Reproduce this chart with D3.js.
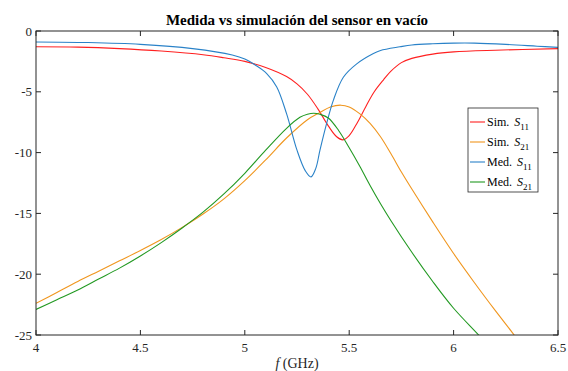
<!DOCTYPE html>
<html><head><meta charset="utf-8">
<script src="https://cdn.jsdelivr.net/npm/d3@7"></script>
<style>body{margin:0;background:#fff}svg{display:block}</style>
</head><body>
<svg id="c" width="568" height="371"></svg>
<script>
const xTicks = [4, 4.5, 5, 5.5, 6, 6.5];
const xTickLabels = ["4", "4.5", "5", "5.5", "6", "6.5"];
const yTicks = [0, -5, -10, -15, -20, -25];
const yTickLabels = ["0", "-5", "-10", "-15", "-20", "-25"];

const simS11F = [4.0, 4.2, 4.4, 4.6, 4.8, 4.9, 5.0, 5.1, 5.2, 5.25, 5.3, 5.35, 5.4, 5.44, 5.47, 5.5, 5.54, 5.58, 5.62, 5.665, 5.7, 5.75, 5.8, 5.9, 6.0, 6.2, 6.5];
const simS11V = [-1.3, -1.33, -1.45, -1.65, -1.95, -2.2, -2.5, -3.0, -3.75, -4.35, -5.2, -6.4, -7.8, -8.7, -8.95, -8.6, -7.5, -6.2, -5.0, -4.0, -3.3, -2.6, -2.25, -1.9, -1.72, -1.58, -1.45];

const simS21F = [4.0, 4.1, 4.2, 4.3, 4.4, 4.5, 4.6, 4.7, 4.8, 4.9, 5.0, 5.1, 5.2, 5.3, 5.36, 5.41, 5.46, 5.5, 5.55, 5.6, 5.65, 5.7, 5.75, 5.8, 5.9, 6.0, 6.1, 6.2, 6.29, 6.35];
const simS21V = [-22.4, -21.5, -20.6, -19.75, -18.9, -18.05, -17.15, -16.15, -15.05, -13.8, -12.3, -10.6, -8.8, -7.3, -6.7, -6.25, -6.1, -6.25, -6.8, -7.6, -8.7, -10.1, -11.6, -13.0, -15.7, -18.3, -20.7, -23.0, -25.0, -26.4];

const medS11F = [4.0, 4.25, 4.5, 4.75, 4.94, 5.0, 5.05, 5.105, 5.153, 5.2, 5.25, 5.29, 5.317, 5.34, 5.36, 5.392, 5.424, 5.472, 5.536, 5.616, 5.65, 5.743, 5.8, 5.9, 6.0, 6.1, 6.25, 6.4, 6.5];
const medS11V = [-0.9, -0.95, -1.1, -1.45, -1.97, -2.3, -2.8, -3.5, -4.6, -6.8, -9.8, -11.5, -12.0, -11.3, -9.8, -7.6, -5.7, -3.8, -2.7, -1.85, -1.6, -1.3, -1.15, -1.05, -1.0, -1.0, -1.1, -1.25, -1.35];

const medS21F = [4.0, 4.1, 4.2, 4.3, 4.4, 4.5, 4.6, 4.7, 4.8, 4.9, 5.0, 5.1, 5.2, 5.264, 5.3, 5.33, 5.36, 5.4, 5.45, 5.5, 5.55, 5.6, 5.65, 5.7, 5.8, 5.9, 6.0, 6.12, 6.2];
const medS21V = [-22.9, -22.1, -21.3, -20.4, -19.5, -18.5, -17.4, -16.2, -14.9, -13.4, -11.7, -9.8, -8.0, -7.1, -6.85, -6.77, -6.85, -7.15, -8.2, -9.6, -11.1, -12.7, -14.2, -15.6, -18.2, -20.6, -22.8, -25.0, -26.5];

const seriesNames = ["Sim. ", "Sim. ", "Med. ", "Med. "];
const seriesSub = ["11", "21", "11", "21"];
const colors = ["#ff2020", "#f0961e", "#2a82c8", "#229922"];

const svg = d3.select("#c");
const m = {l: 36, r: 558, t: 31, b: 335};
const x = d3.scaleLinear().domain([4, 6.5]).range([m.l, m.r]);
const y = d3.scaleLinear().domain([-25, 0]).range([m.b, m.t]);
const font = "'Liberation Serif','Times New Roman',serif";
const axisColor = "#262626";

svg.append("defs").append("clipPath").attr("id", "clip")
  .append("rect").attr("x", m.l).attr("y", m.t).attr("width", m.r - m.l).attr("height", m.b - m.t);

const series = [
  simS11F.map((f, i) => [f, simS11V[i]]),
  simS21F.map((f, i) => [f, simS21V[i]]),
  medS11F.map((f, i) => [f, medS11V[i]]),
  medS21F.map((f, i) => [f, medS21V[i]])
];
const line = d3.line().x(d => x(d[0])).y(d => y(d[1])).curve(d3.curveCatmullRom.alpha(0.5));
const g = svg.append("g").attr("clip-path", "url(#clip)");
series.forEach((s, i) => {
  g.append("path").attr("d", line(s)).attr("fill", "none").attr("stroke", colors[i]).attr("stroke-width", 1.1);
});

// axes
const tickLen = 5;
const ax = svg.append("g").attr("stroke", axisColor).attr("fill", "none");
ax.append("rect").attr("x", m.l).attr("y", m.t).attr("width", m.r - m.l).attr("height", m.b - m.t).attr("stroke-width", 1);
xTicks.forEach(t => {
  ax.append("line").attr("x1", x(t)).attr("x2", x(t)).attr("y1", m.b).attr("y2", m.b - tickLen);
  ax.append("line").attr("x1", x(t)).attr("x2", x(t)).attr("y1", m.t).attr("y2", m.t + tickLen);
});
yTicks.forEach(t => {
  ax.append("line").attr("x1", m.l).attr("x2", m.l + tickLen).attr("y1", y(t)).attr("y2", y(t));
  ax.append("line").attr("x1", m.r).attr("x2", m.r - tickLen).attr("y1", y(t)).attr("y2", y(t));
});
xTicks.forEach((t, i) => {
  svg.append("text").attr("x", x(t)).attr("y", m.b + 17).attr("text-anchor", "middle")
    .attr("font-family", font).attr("font-size", 13).attr("fill", axisColor).text(xTickLabels[i]);
});
yTicks.forEach((t, i) => {
  svg.append("text").attr("x", m.l - 4).attr("y", y(t) + 4.5).attr("text-anchor", "end")
    .attr("font-family", font).attr("font-size", 13).attr("fill", axisColor).text(yTickLabels[i]);
});

svg.append("text").attr("x", (m.l + m.r) / 2).attr("y", 25).attr("text-anchor", "middle")
  .attr("font-family", font).attr("font-size", 15).attr("font-weight", "bold").attr("fill", "#000")
  .text("Medida vs simulación del sensor en vacío");

const xl = svg.append("text").attr("x", (m.l + m.r) / 2).attr("y", 368).attr("text-anchor", "middle")
  .attr("font-family", font).attr("font-size", 14).attr("fill", axisColor);
xl.append("tspan").attr("font-style", "italic").text("f");
xl.append("tspan").text(" (GHz)");

// legend
const lg = svg.append("g");
lg.append("rect").attr("x", 468).attr("y", 108).attr("width", 70).attr("height", 84)
  .attr("fill", "#fff").attr("stroke", axisColor).attr("stroke-width", 0.8);
seriesNames.forEach((n, i) => {
  const yy = 122 + i * 20;
  lg.append("line").attr("x1", 470).attr("x2", 485).attr("y1", yy).attr("y2", yy)
    .attr("stroke", colors[i]).attr("stroke-width", 1.1);
  const t = lg.append("text").attr("x", 487).attr("y", yy + 4)
    .attr("font-family", font).attr("font-size", 12).attr("fill", "#000");
  t.append("tspan").text(n);
  t.append("tspan").attr("font-style", "italic").attr("dx", 2).text("S");
  t.append("tspan").attr("font-size", 9).attr("dy", 4).text(seriesSub[i]);
});
</script>
</body></html>
